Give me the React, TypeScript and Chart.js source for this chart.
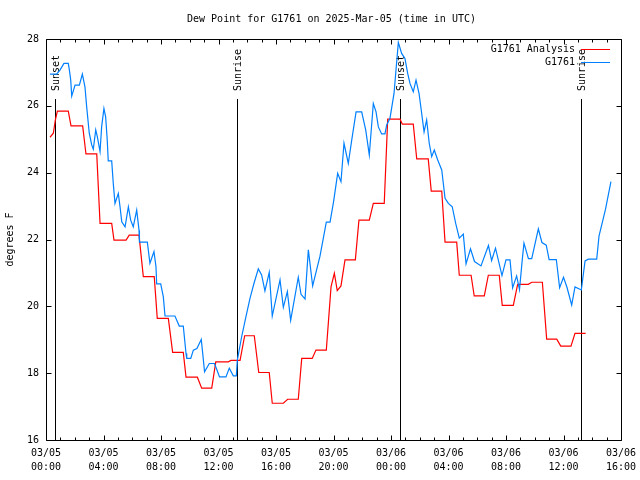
import React, { useEffect, useRef } from "react";
import { Chart, registerables } from "chart.js";

Chart.register(...registerables);

const TITLE = "Dew Point for G1761 on 2025-Mar-05 (time in UTC)";
const Y_TITLE = "degrees F";
const SERIES_NAMES = ["G1761 Analysis", "G1761"];
const SERIES_COLORS = ["#ff0000", "#0080ff"];
const FONT = "'DejaVu Sans Mono', 'Liberation Mono', monospace";

// x axis: hours since 03/05 00:00 UTC
const X_MIN = 0;
const X_MAX = 40;
const Y_MIN = 16;
const Y_MAX = 28;
const Y_STEP = 2;
const X_MAJOR_STEP = 4;
const DAYS = ["03/05", "03/06"];

const analysisHours = [
  0.28, 0.51, 0.65, 0.79, 1.55, 1.74, 2.55, 2.78, 3.53, 3.76,
  4.57, 4.73, 5.57, 5.79, 6.47, 6.77, 7.53, 7.74, 8.51, 8.81,
  9.55, 9.74, 10.53, 10.83, 11.53, 11.81, 12.68, 12.87, 13.5, 13.82,
  14.49, 14.8, 15.53, 15.74, 16.51, 16.81, 17.55, 17.79, 18.52, 18.78,
  19.5, 19.83, 20.06, 20.26, 20.52, 20.8, 21.52, 21.77, 22.49, 22.77,
  23.53, 23.77, 24.63, 24.79, 25.55, 25.79, 26.59, 26.8, 27.53, 27.76,
  28.57, 28.75, 29.57, 29.79, 30.49, 30.77, 31.53, 31.74, 32.51, 32.81,
  33.55, 33.79, 34.53, 34.83, 35.53, 35.81, 36.52, 36.8, 37.54,
];
const analysisValues = [
  25.06, 25.18, 25.57, 25.84, 25.84, 25.4, 25.4, 24.56, 24.56, 22.48,
  22.48, 21.98, 21.98, 22.13, 22.13, 20.89, 20.89, 19.64, 19.64, 18.62,
  18.62, 17.88, 17.88, 17.55, 17.55, 18.34, 18.34, 18.38, 18.38, 19.12,
  19.12, 18.02, 18.02, 17.1, 17.1, 17.22, 17.22, 18.44, 18.44, 18.69,
  18.69, 20.59, 20.99, 20.47, 20.61, 21.39, 21.39, 22.58, 22.58, 23.08,
  23.08, 25.6, 25.6, 25.45, 25.45, 24.41, 24.41, 23.45, 23.45, 21.92,
  21.92, 20.93, 20.93, 20.31, 20.31, 20.93, 20.93, 20.03, 20.03, 20.66,
  20.66, 20.72, 20.72, 19.02, 19.02, 18.81, 18.81, 19.19, 19.19,
];

const obsHours = [
  0.28, 0.74, 0.97, 1.25, 1.55, 1.62, 1.72, 1.79, 2.02, 2.32,
  2.53, 2.71, 2.83, 3.01, 3.18, 3.29, 3.46, 3.57, 3.76, 3.87,
  4.03, 4.15, 4.26, 4.33, 4.57, 4.68, 4.8, 5.03, 5.15, 5.27,
  5.5, 5.73, 5.89, 6.07, 6.31, 6.47, 6.5, 7.05, 7.23, 7.35,
  7.51, 7.65, 7.7, 7.98, 8.16, 8.28, 8.97, 9.27, 9.55, 9.74,
  9.79, 10.07, 10.25, 10.5, 10.8, 10.9, 11.03, 11.36, 11.72, 11.9,
  12.07, 12.52, 12.75, 13.03, 13.24, 13.31, 13.61, 13.91, 14.19, 14.47,
  14.77, 15.0, 15.23, 15.53, 15.74, 16.28, 16.51, 16.79, 17.02, 17.55,
  17.74, 18.02, 18.25, 18.55, 19.06, 19.5, 19.76, 20.0, 20.29, 20.52,
  20.73, 21.03, 21.27, 21.57, 21.96, 22.24, 22.49, 22.77, 22.96, 23.12,
  23.35, 23.58, 23.7, 23.93, 24.21, 24.51, 24.74, 24.97, 25.16, 25.32,
  25.55, 25.74, 25.95, 26.09, 26.3, 26.48, 26.66, 26.83, 27.01, 27.25,
  27.53, 27.76, 27.99, 28.26, 28.5, 28.75, 29.03, 29.22, 29.53, 29.81,
  30.26, 30.78, 31.0, 31.27, 31.72, 32.0, 32.28, 32.46, 32.74, 32.94,
  33.13, 33.25, 33.56, 33.79, 34.25, 34.5, 34.8, 35.0, 35.5, 35.73,
  36.0, 36.24, 36.57, 36.8, 37.24, 37.5, 37.72, 38.31, 38.47, 38.92,
  39.3,
];
const obsValues = [
  26.95, 26.95, 27.07, 27.27, 27.27, 27.09, 26.77, 26.29, 26.62, 26.62,
  26.95, 26.57, 25.97, 25.18, 24.83, 24.7, 25.28, 25.08, 24.63, 25.37,
  25.92, 25.67, 24.98, 24.35, 24.35, 23.68, 23.08, 23.38, 22.98, 22.53,
  22.38, 22.98, 22.58, 22.38, 22.88, 22.28, 21.92, 21.92, 21.29, 21.44,
  21.64, 21.19, 20.67, 20.67, 20.29, 19.71, 19.71, 19.41, 19.41, 18.59,
  18.44, 18.44, 18.69, 18.74, 19.01, 18.6, 18.04, 18.29, 18.29, 18.09,
  17.89, 17.89, 18.15, 17.92, 17.92, 18.39, 19.09, 19.69, 20.24, 20.69,
  21.12, 20.94, 20.46, 21.02, 19.71, 20.79, 19.97, 20.44, 19.58, 20.87,
  20.36, 20.22, 21.69, 20.61, 21.5, 22.52, 22.52, 23.12, 23.98, 23.73,
  24.88, 24.28, 24.98, 25.82, 25.82, 25.28, 24.53, 26.07, 25.82, 25.37,
  25.16, 25.16, 25.43, 25.63, 26.37, 27.9, 27.57, 27.42, 26.97, 26.67,
  26.42, 26.77, 26.37, 25.92, 25.22, 25.58, 24.88, 24.48, 24.68, 24.38,
  24.08, 23.23, 23.08, 22.98, 22.48, 22.04, 22.16, 21.27, 21.72, 21.34,
  21.21, 21.82, 21.37, 21.74, 20.92, 21.39, 21.39, 20.55, 20.91, 20.5,
  21.39, 21.89, 21.43, 21.43, 22.32, 21.91, 21.83, 21.4, 21.4, 20.56,
  20.87, 20.57, 20.04, 20.58, 20.49, 21.36, 21.41, 21.41, 22.1, 22.9,
  23.73,
];

const eventHours = [0.65, 13.31, 24.65, 37.24];
const eventLabels = ["Sunset", "Sunrise", "Sunset", "Sunrise"];

function hourLabel(v: number): string[] {
  const day = DAYS[Math.floor(v / 24)] ?? DAYS[DAYS.length - 1];
  const hh = v % 24;
  return [day, String(hh).padStart(2, "0") + ":00"];
}

const gnuplotPlugin = {
  id: "gnuplotLook",
  beforeDatasetsDraw(chart: any) {
    const { ctx, chartArea: a, scales } = chart;
    const xs = scales.x;
    ctx.save();
    ctx.strokeStyle = "#000";
    ctx.fillStyle = "#000";
    ctx.lineWidth = 1;
    ctx.font = `10px ${FONT}`;
    const topY = Math.round(a.bottom - 0.85 * (a.bottom - a.top));
    eventHours.forEach((h, i) => {
      const px = Math.round(xs.getPixelForValue(h)) + 0.5;
      ctx.beginPath();
      ctx.moveTo(px, a.bottom);
      ctx.lineTo(px, topY);
      ctx.stroke();
      ctx.save();
      ctx.translate(px + 1, topY - 8);
      ctx.rotate(-Math.PI / 2);
      ctx.textAlign = "left";
      ctx.textBaseline = "middle";
      ctx.fillText(eventLabels[i], 0, 0);
      ctx.restore();
    });
    ctx.restore();
  },
  afterDraw(chart: any) {
    const { ctx, chartArea: a, scales } = chart;
    const xs = scales.x;
    const ys = scales.y;
    ctx.save();
    ctx.strokeStyle = "#000";
    ctx.fillStyle = "#000";
    ctx.lineWidth = 1;
    const L = Math.round(a.left) + 0.5;
    const R = Math.round(a.right) + 0.5;
    const T = Math.round(a.top) + 0.5;
    const B = Math.round(a.bottom) + 0.5;
    ctx.beginPath();
    ctx.rect(L, T, R - L, B - T);
    ctx.stroke();
    ctx.beginPath();
    for (let h = X_MIN; h <= X_MAX; h += 1) {
      const px = Math.round(xs.getPixelForValue(h)) + 0.5;
      const len = h % X_MAJOR_STEP === 0 ? 5 : 3;
      ctx.moveTo(px, B);
      ctx.lineTo(px, B - len);
      ctx.moveTo(px, T);
      ctx.lineTo(px, T + len);
    }
    for (let v = Y_MIN; v <= Y_MAX; v += Y_STEP) {
      const py = Math.round(ys.getPixelForValue(v)) + 0.5;
      ctx.moveTo(L, py);
      ctx.lineTo(L + 5, py);
      ctx.moveTo(R, py);
      ctx.lineTo(R - 5, py);
    }
    ctx.stroke();
    ctx.font = `10px ${FONT}`;
    ctx.textAlign = "center";
    ctx.textBaseline = "middle";
    ctx.fillText(TITLE, (a.left + a.right) / 2 - 2, 19);
    chart.data.datasets.forEach((ds: any, i: number) => {
      const y = Math.round(a.top) + 10 + i * 13;
      ctx.textAlign = "right";
      ctx.fillStyle = "#000";
      ctx.fillText(ds.label, a.right - 46, y);
      ctx.strokeStyle = ds.borderColor;
      ctx.beginPath();
      ctx.moveTo(a.right - 40, y + 0.5);
      ctx.lineTo(a.right - 11, y + 0.5);
      ctx.stroke();
    });
    ctx.restore();
  },
};

export default function App() {
  const canvasRef = useRef<HTMLCanvasElement | null>(null);

  useEffect(() => {
    const canvas = canvasRef.current;
    if (!canvas) return;
    const analysisData = analysisHours.map((h, i) => ({ x: h, y: analysisValues[i] }));
    const obsData = obsHours.map((h, i) => ({ x: h, y: obsValues[i] }));
    const chart = new Chart(canvas, {
      type: "line",
      data: {
        datasets: [
          {
            label: SERIES_NAMES[0],
            data: analysisData,
            borderColor: SERIES_COLORS[0],
            backgroundColor: SERIES_COLORS[0],
            borderWidth: 1.2,
            pointRadius: 0,
            tension: 0,
            order: 1,
          },
          {
            label: SERIES_NAMES[1],
            data: obsData,
            borderColor: SERIES_COLORS[1],
            backgroundColor: SERIES_COLORS[1],
            borderWidth: 1.2,
            pointRadius: 0,
            tension: 0,
            order: 0,
          },
        ],
      },
      options: {
        animation: false,
        responsive: false,
        devicePixelRatio: 1,
        layout: { padding: { top: 39, right: 19, left: 0, bottom: 0 } },
        plugins: {
          legend: { display: false },
          title: { display: false },
          tooltip: { enabled: false },
        },
        scales: {
          x: {
            type: "linear",
            min: X_MIN,
            max: X_MAX,
            grid: { display: false, drawTicks: false },
            border: { display: false },
            ticks: {
              stepSize: X_MAJOR_STEP,
              autoSkip: false,
              maxRotation: 0,
              padding: 6,
              color: "#000",
              font: { family: FONT, size: 10, lineHeight: 1.4 },
              callback: (v: any) => hourLabel(Number(v)),
            },
            afterFit: (s: any) => {
              s.height = 40;
              s.paddingLeft = 0;
              s.paddingRight = 0;
            },
          },
          y: {
            type: "linear",
            min: Y_MIN,
            max: Y_MAX,
            grid: { display: false, drawTicks: false },
            border: { display: false },
            ticks: {
              stepSize: Y_STEP,
              padding: 7,
              color: "#000",
              font: { family: FONT, size: 10 },
            },
            title: {
              display: true,
              text: Y_TITLE,
              color: "#000",
              font: { family: FONT, size: 10 },
              padding: { top: 4, bottom: 0 },
            },
            afterFit: (s: any) => {
              s.width = 46;
              s.paddingTop = 0;
              s.paddingBottom = 0;
            },
          },
        },
      },
      plugins: [gnuplotPlugin],
    });
    return () => chart.destroy();
  }, []);

  return (
    <div style={{ position: "fixed", left: 0, top: 0, width: 640, height: 480, background: "#fff" }}>
      <canvas ref={canvasRef} width={640} height={480} style={{ display: "block" }} />
    </div>
  );
}
